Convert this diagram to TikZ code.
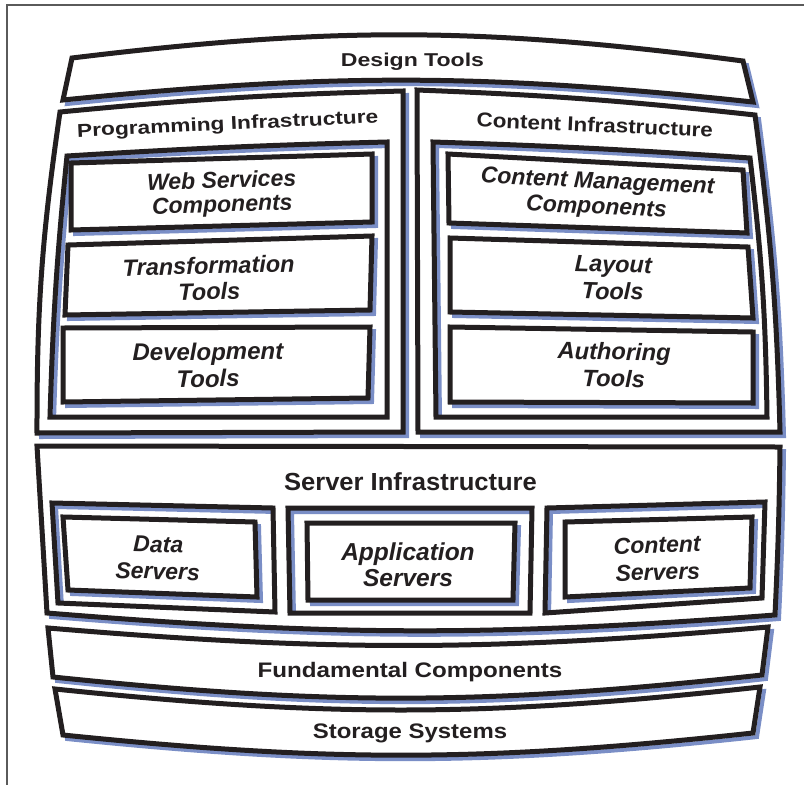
\documentclass[tikz,border=0pt]{standalone}
\usepackage{fontspec}
\setmainfont{Liberation Sans}
\usepackage{graphicx}
\definecolor{ink}{RGB}{35,31,32}
\definecolor{shade}{RGB}{122,142,198}
\definecolor{framegray}{RGB}{90,90,90}
\newcommand\quadp[8]{(#1) to[bend left=#5] (#2) to[bend left=#6] (#3) to[bend left=#7] (#4) to[bend left=#8] cycle}
\newcommand\hf[1]{\fontsize{#1}{#1}\selectfont\bfseries}
\newcommand\lf[2]{\fontsize{#1}{#2}\selectfont\bfseries\itshape}
% outer bands
\def\shDT{\quadp{72,58}{743,61}{753,102}{63,100}{7.2}{0}{-5.9}{0}}
\def\shPI{\quadp{60,112}{403,91}{403,432}{37,433}{2}{0}{0}{4.2}}
\def\shCI{\quadp{417,90}{755,115}{780,432}{418,432}{2}{3}{0}{0}}
\def\shSI{\quadp{37,446}{780,447}{775,615}{47,613}{0}{1}{4.5}{0}}
\def\shFC{\quadp{48,628}{768,627}{762,675}{53,677}{-4.9}{0}{6.1}{0}}
\def\shSS{\quadp{55,689}{760,687}{753,733}{63,735}{-6.1}{0}{6}{0}}
% containers
\def\cPI{\quadp{67,156}{387,142}{387,417}{50,417}{1}{0}{0}{2}}
\def\cCI{\quadp{433,142}{750,158}{767,417}{436,417}{1}{3}{0}{0}}
\def\cDS{\quadp{52,503}{273,508}{275,612}{58,603}{0}{0}{0}{0}}
\def\cAS{\quadp{288,508}{532,508}{530,613}{290,613}{0}{0}{0}{0}}
\def\cCS{\quadp{547,508}{765,502}{762,598}{545,613}{0}{0}{0}{0}}
% boxes
\def\bWS{\quadp{71,163}{372,154}{372,222}{71,230}{0}{0}{0}{0}}
\def\bTT{\quadp{68,245}{372,236}{370,310}{65,315}{0}{0}{0}{0}}
\def\bDV{\quadp{63,328}{370,327}{368,398}{63,402}{0}{0}{0}{0}}
\def\bCM{\quadp{448,154}{743,170}{747,233}{449,223}{0}{0}{0}{0}}
\def\bLT{\quadp{450,238}{748,247}{753,318}{450,312}{0}{0}{0}{0}}
\def\bAT{\quadp{450,327}{753,332}{753,403}{450,402}{0}{0}{0}{0}}
\def\bDS{\quadp{63,517}{255,522}{257,597}{68,590}{0}{0}{0}{0}}
\def\bAS{\quadp{307,523}{515,523}{513,600}{308,600}{0}{0}{0}{0}}
\def\bCS{\quadp{565,522}{752,517}{750,588}{565,597}{0}{0}{0}{0}}
\tikzset{
  outl/.style={draw=ink, line width=5pt, fill=white, line join=miter},
  shd/.style={draw=shade, line width=4pt, shift={(4,4)}},
  hdr/.style={text=ink, anchor=base, inner sep=0pt},
  lbl/.style={text=ink, align=center, inner sep=0pt},
  framel/.style={draw=framegray, line width=1.5pt}
}
\begin{document}
\begin{tikzpicture}[x=1pt,y=-1pt]
\useasboundingbox (0,0) rectangle (804,785);
\coordinate (f1) at (804,5);
\coordinate (f2) at (7,5);
\coordinate (f3) at (7,785);
\draw[framel] (f1) -- (f2) -- (f3);
% outer bands: shadow then shape
\foreach \s in {\shDT,\shPI,\shCI,\shSI,\shFC,\shSS}{
  \draw[shd] \s;
  \path[outl] \s;
}
% containers with inner shadow
\foreach \s in {\cPI,\cCI,\cDS,\cAS,\cCS}{
  \fill[white] \s;
  \begin{scope}
    \clip \s;
    \draw[shd] \s;
  \end{scope}
  \draw[outl, fill=none] \s;
}
% boxes with drop shadow
\foreach \s in {\bWS,\bTT,\bDV,\bCM,\bLT,\bAT,\bDS,\bAS,\bCS}{
  \draw[shd] \s;
  \path[outl] \s;
}
% headings
\node[hdr, font=\hf{18.6}] (dt) at (412.5,66) {\scalebox{1.24}[1]{Design Tools}};
\node[hdr, font=\hf{18.6}, rotate=2.7] (pi) at (228,130) {\scalebox{1.22}[1]{Programming Infrastructure}};
\node[hdr, font=\hf{20}, rotate=-2.56] (ci) at (594.5,132) {\scalebox{1.12}[1]{Content Infrastructure}};
\node[hdr, font=\hf{24.7}] (si) at (410.5,490) {\scalebox{1.035}[1]{Server Infrastructure}};
\node[hdr, font=\hf{21}] (fc) at (410,677.5) {\scalebox{1.15}[1]{Fundamental Components}};
\node[hdr, font=\hf{21}] (ss) at (410,738) {\scalebox{1.14}[1]{Storage Systems}};
% inner labels
\node[lbl, font=\lf{23}{24}, rotate=1.7] (ws) at (222,194) {Web Services\\Components};
\node[lbl, font=\lf{23.5}{26}, rotate=1.5] (tt) at (209,278.5) {Transformation\\Tools};
\node[lbl, font=\lf{24}{27}, rotate=0.5] (dv) at (208,365) {Development\\Tools};
\node[lbl, font=\lf{23}{25.5}, rotate=-2.7] (cm) at (597,195.5) {Content Management\\Components};
\node[lbl, font=\lf{23.5}{27}, rotate=-1.5] (lt) at (613,278) {Layout\\Tools};
\node[lbl, font=\lf{23.7}{27}, rotate=-1] (at) at (614,365) {Authoring\\Tools};
\node[lbl, font=\lf{23}{27}, rotate=-1.5] (ds) at (158,558) {Data\\Servers};
\node[lbl, font=\lf{24.5}{26}] (as) at (408,565) {Application\\Servers};
\node[lbl, font=\lf{23}{27}, rotate=1.5] (cs) at (657.5,558.5) {Content\\Servers};
\end{tikzpicture}
\end{document}
